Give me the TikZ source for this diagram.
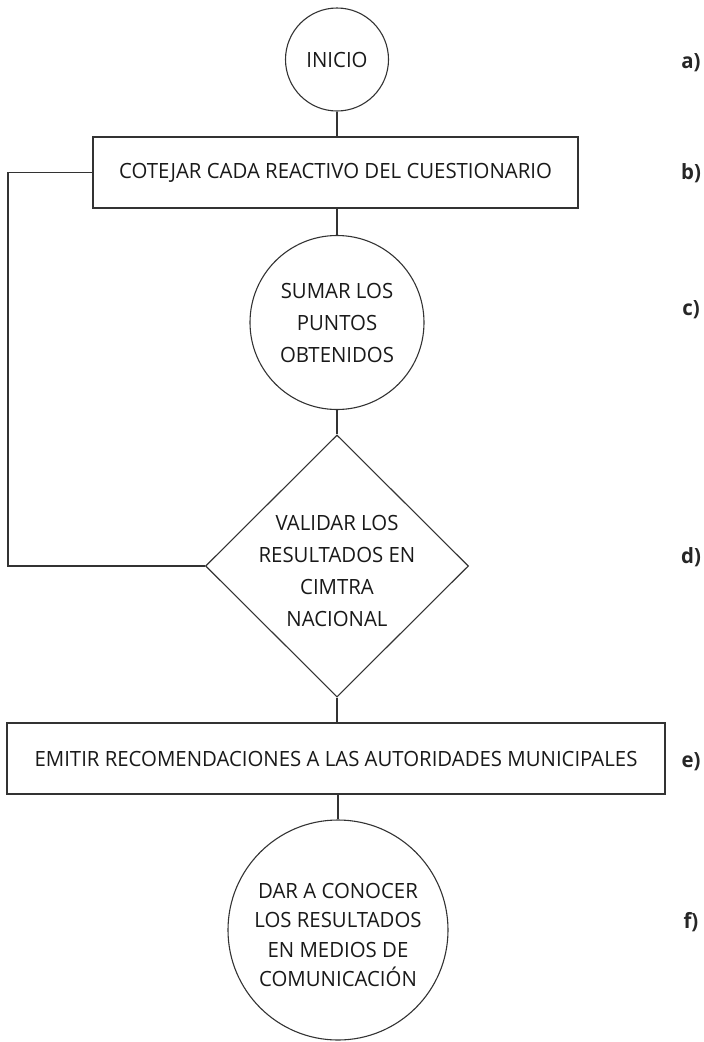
\documentclass[tikz,border=0pt]{standalone}
\usepackage{fontspec}
\setmainfont{Open Sans}[FakeStretch=0.97]
\usetikzlibrary{shapes.geometric}
\begin{document}
\begin{tikzpicture}[x=1pt,y=-1pt,
  line/.style={draw=black!80, line width=1.1pt},
  txt/.style={font=\fontsize{21}{32}\selectfont, align=center, text=black!90},
  lab/.style={font=\fontsize{21}{25}\selectfont\bfseries, text=black!85, anchor=center, inner sep=0}]
\useasboundingbox (0,0) rectangle (704,1042);
\node[circle, line, minimum size=103pt, inner sep=0, txt] (a) at (337,59.5) {INICIO};
\node[rectangle, line, minimum width=485pt, minimum height=71pt, txt] (b) at (335.5,172.5) {COTEJAR CADA REACTIVO DEL CUESTIONARIO};
\node[circle, line, minimum size=174pt, inner sep=0, txt] (c) at (337,322.5) {SUMAR LOS\\PUNTOS\\OBTENIDOS};
\node[diamond, line, minimum width=263pt, minimum height=262pt, inner sep=0,
  label={[txt, yshift=-5pt]center:{VALIDAR LOS\\RESULTADOS EN\\CIMTRA\\NACIONAL}}] (d) at (337,566) {};
\node[rectangle, line, minimum width=658pt, minimum height=71pt, txt] (e) at (336,758.5) {EMITIR RECOMENDACIONES A LAS AUTORIDADES MUNICIPALES};
\node[circle, line, minimum size=220pt, inner sep=0,
  label={[txt, font=\fontsize{21}{29.5}\selectfont, yshift=-5pt]center:{DAR A CONOCER\\LOS RESULTADOS\\EN MEDIOS DE\\COMUNICACIÓN}}] (f) at (338,930) {};
\coordinate (fb) at (8,0);
\draw[line] (a.south) -- (a.south |- b.north);
\draw[line] (c.north |- b.south) -- (c.north);
\draw[line] (c.south) -- (d.north);
\draw[line] (d.south) -- (d.south |- e.north);
\draw[line] (f.north |- e.south) -- (f.north);
\draw[line] (d.west) -- (d.west -| fb) |- (b.west);
\node[lab] (la) at (691,63) {a)};
\node[lab] (lb) at (691,173) {b)};
\node[lab] (lc) at (691,310) {c)};
\node[lab] (ld) at (691,557) {d)};
\node[lab] (le) at (691,762) {e)};
\node[lab] (lf) at (691,922) {f)};
\end{tikzpicture}
\end{document}
